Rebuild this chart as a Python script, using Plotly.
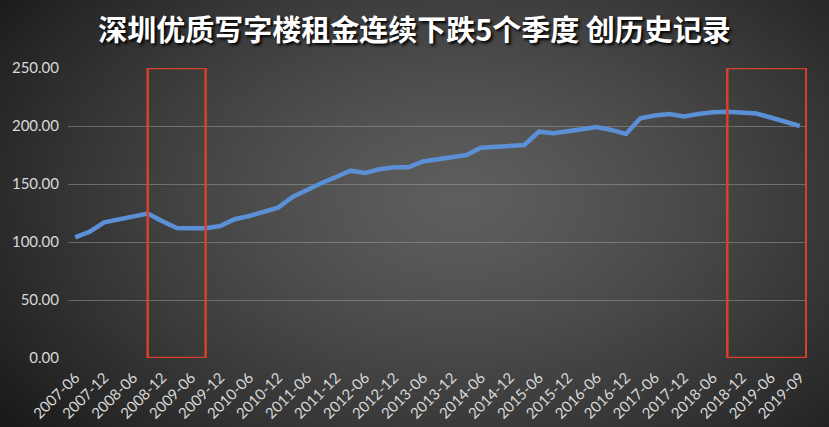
import numpy as np
import zlib, struct, base64
import plotly.graph_objects as go

# ---------------- data ----------------
rent_index = [104.0, 108.9, 117.0, 119.4, 122.0, 124.5, 118.0, 112.0, 111.8, 111.8,
              113.8, 119.6, 122.4, 125.6, 129.6, 138.8, 145.0, 150.9, 156.0, 161.5,
              159.5, 162.7, 164.4, 164.4, 169.4, 171.1, 173.3, 175.0, 181.3, 182.2,
              182.8, 183.6, 195.1, 193.7, 195.4, 197.2, 199.1, 196.6, 193.1, 206.6,
              209.0, 210.3, 208.2, 210.3, 211.8, 212.3, 211.8, 210.8, 207.3, 203.7,
              200.0]
tick_labels = ["2007-06", "2007-12", "2008-06", "2008-12", "2009-06", "2009-12",
               "2010-06", "2010-12", "2011-06", "2011-12", "2012-06", "2012-12",
               "2013-06", "2013-12", "2014-06", "2014-12", "2015-06", "2015-12",
               "2016-06", "2016-12", "2017-06", "2017-12", "2018-06", "2018-12",
               "2019-06", "2019-09"]
y_ticks = [0, 50, 100, 150, 200, 250]
title_text = "深圳优质写字楼租金连续下跌5个季度 创历史记录"

x_idx = list(range(len(rent_index)))

# ---------------- background gradient ----------------
W, H = 829, 427
ML, MR, MT, MB = 68, 22, 68, 69
PW, PH = W - ML - MR, H - MT - MB
yy, xx = np.mgrid[0:H, 0:W]
d = np.sqrt(((xx - 460) / 560.0) ** 2 + ((yy - 200) / 360.0) ** 2)
g = np.clip(94 - 66 * d ** 1.3, 24, 100).astype(np.uint8)
raw = b"".join(b"\x00" + g[r].tobytes() for r in range(H))


def _chunk(t, data):
    return struct.pack(">I", len(data)) + t + data + struct.pack(">I", zlib.crc32(t + data) & 0xFFFFFFFF)


png = (b"\x89PNG\r\n\x1a\n"
       + _chunk(b"IHDR", struct.pack(">IIBBBBB", W, H, 8, 0, 0, 0, 0))
       + _chunk(b"IDAT", zlib.compress(raw, 9))
       + _chunk(b"IEND", b""))
bg_src = "data:image/png;base64," + base64.b64encode(png).decode()

# ---------------- figure ----------------
fig = go.Figure()
fig.add_trace(go.Scatter(
    x=x_idx, y=rent_index, mode="lines",
    line=dict(color="#5b8fd6", width=4.5),
    hoverinfo="y", showlegend=False,
))

fig.add_layout_image(dict(
    source=bg_src, xref="paper", yref="paper",
    x=-ML / PW, y=1 + MT / PH, sizex=W / PW, sizey=H / PH,
    xanchor="left", yanchor="top", sizing="stretch", layer="below",
))

box_color = "#d8402c"
fig.add_shape(type="rect", xref="x", yref="y", x0=5, x1=9, y0=0, y1=250,
              line=dict(color=box_color, width=2.5), fillcolor="rgba(0,0,0,0)")
fig.add_shape(type="rect", xref="x", yref="y", x0=45, x1=50.45, y0=0, y1=250,
              line=dict(color=box_color, width=2.5), fillcolor="rgba(0,0,0,0)")

y_font = dict(family="Lato, 'Liberation Sans', sans-serif", size=15, color="#d9d9d9")
x_font = dict(family="Lato, 'Liberation Sans', sans-serif", size=15, color="#d9d9d9")

fig.update_layout(
    width=W, height=H,
    margin=dict(l=ML, r=MR, t=MT, b=MB, autoexpand=False),
    paper_bgcolor="#2e2e2e",
    plot_bgcolor="rgba(0,0,0,0)",
    title=dict(
        text=title_text, xref="container", yref="container",
        x=0.5, xanchor="center", y=1 - 31 / H, yanchor="middle",
        font=dict(family="Noto Sans CJK SC", size=29, color="#ffffff",
                  weight="bold", shadow="2px 2px 3px #000000"),
    ),
    xaxis=dict(
        range=[-0.5, len(rent_index) - 0.5],
        tickmode="array",
        tickvals=x_idx[::2],
        ticktext=tick_labels,
        tickangle=-45,
        tickfont=x_font,
        showgrid=False, zeroline=False, showline=False,
        ticks="", ticklabelstandoff=7, automargin=False,
        fixedrange=True,
    ),
    yaxis=dict(
        range=[0, 250],
        tickmode="array",
        tickvals=y_ticks,
        ticktext=[f"{v:.2f}" for v in y_ticks],
        tickfont=y_font,
        showgrid=True, gridcolor="rgba(170,170,170,0.45)", gridwidth=1,
        zeroline=False, showline=False, ticks="", ticklabelstandoff=8,
        automargin=False, fixedrange=True,
    ),
)

fig.write_html(
    "out.html",
    config={"displayModeBar": False},
    post_script="document.body.style.margin='0';document.body.style.overflow='hidden';",
)
